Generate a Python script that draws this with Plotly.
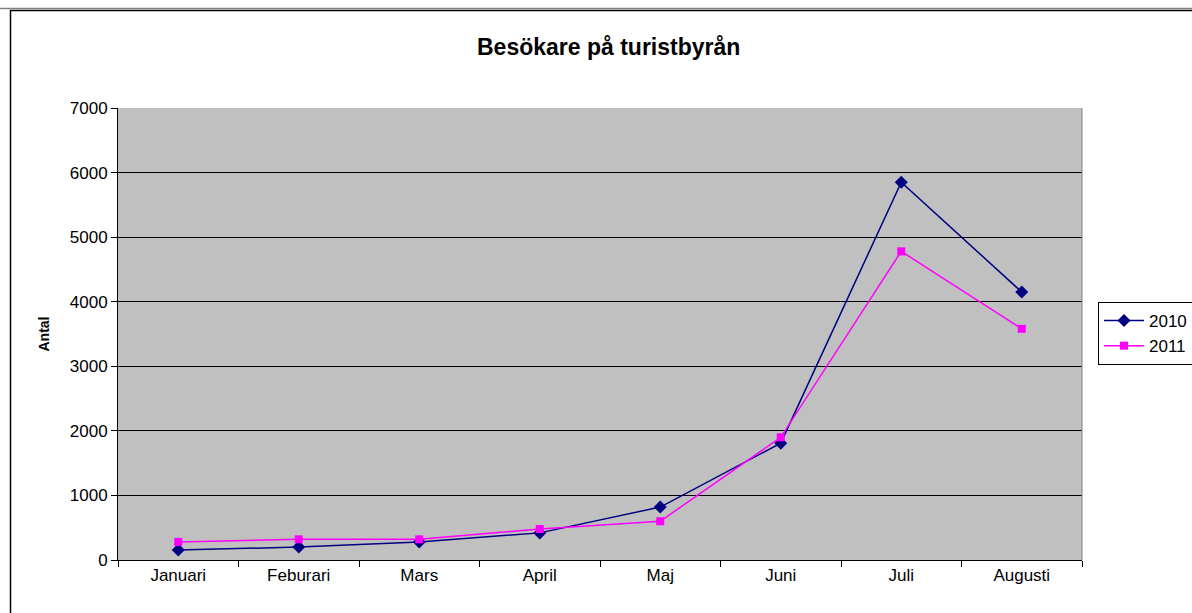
import plotly.graph_objects as go

months = ["Januari", "Feburari", "Mars", "April", "Maj", "Juni", "Juli", "Augusti"]
visitors_2010 = [155, 200, 280, 420, 820, 1810, 5850, 4150]
visitors_2011 = [280, 320, 320, 480, 600, 1900, 4780, 3580]
y_ticks = [0, 1000, 2000, 3000, 4000, 5000, 6000, 7000]

FONT = "Liberation Sans, Arial, sans-serif"

fig = go.Figure()
fig.add_trace(go.Scatter(
    x=months, y=visitors_2010, name="2010", mode="lines+markers",
    line=dict(color="#000080", width=1.5),
    marker=dict(symbol="diamond", size=10, color="#000080"),
))
fig.add_trace(go.Scatter(
    x=months, y=visitors_2011, name="2011", mode="lines+markers",
    line=dict(color="#FF00FF", width=1.5),
    marker=dict(symbol="square", size=8, color="#FF00FF"),
))

L, R, T, B = 118, 110, 108, 53
W, H = 1192, 613
pw, ph = W - L - R, H - T - B

def px_x(p):
    return (p - L) / pw

def px_y(p):
    return (H - B - p) / ph

fig.update_layout(
    width=W, height=H,
    margin=dict(l=L, r=R, t=T, b=B, autoexpand=False),
    paper_bgcolor="white",
    plot_bgcolor="#C0C0C0",
    font=dict(family=FONT, size=17, color="black"),
    showlegend=True,
    legend=dict(
        x=px_x(1098), y=px_y(302), xanchor="left", yanchor="top",
        bgcolor="white", bordercolor="black", borderwidth=1,
        font=dict(family=FONT, size=17, color="black"),
        itemwidth=40, tracegroupgap=0,
    ),
    xaxis=dict(
        type="category", showgrid=False, showline=True, linecolor="black", linewidth=1,
        ticks="outside", tickson="boundaries", ticklen=6, tickcolor="black",
        range=[-0.5, 7.5], zeroline=False, mirror=False,
        tickfont=dict(family=FONT, size=17),
    ),
    yaxis=dict(
        range=[0, 7000], tickvals=y_ticks, showgrid=True, gridcolor="black", gridwidth=1,
        showline=True, linecolor="black", linewidth=1, ticks="outside", ticklen=6,
        tickcolor="black", zeroline=False,
        tickfont=dict(family=FONT, size=17),
        title=dict(text="<b>Antal</b>", font=dict(family=FONT, size=14), standoff=16),
    ),
    annotations=[
        dict(text="<b>Besökare på turistbyrån</b>", xref="paper", yref="paper",
             x=px_x(608), y=px_y(47), xanchor="center", yanchor="middle",
             showarrow=False, font=dict(family=FONT, size=23, color="black")),
    ],
    shapes=[
        # outer chart border
        dict(type="rect", xref="paper", yref="paper",
             x0=px_x(10.5), x1=px_x(1300), y0=px_y(700), y1=px_y(10.5),
             line=dict(color="black", width=1.5), layer="below"),
        # gray line at very top
        dict(type="line", xref="paper", yref="paper",
             x0=px_x(0), x1=px_x(1192), y0=px_y(8.5), y1=px_y(8.5),
             line=dict(color="#808080", width=1.5)),
        # right edge of plot area
        dict(type="line", xref="paper", yref="paper",
             x0=1, x1=1, y0=0, y1=1, line=dict(color="#808080", width=1)),
    ],
)

fig.write_html(
    "out.html",
    config={"displayModeBar": False},
    post_script="document.body.style.margin='0';document.body.style.overflow='hidden';",
)
